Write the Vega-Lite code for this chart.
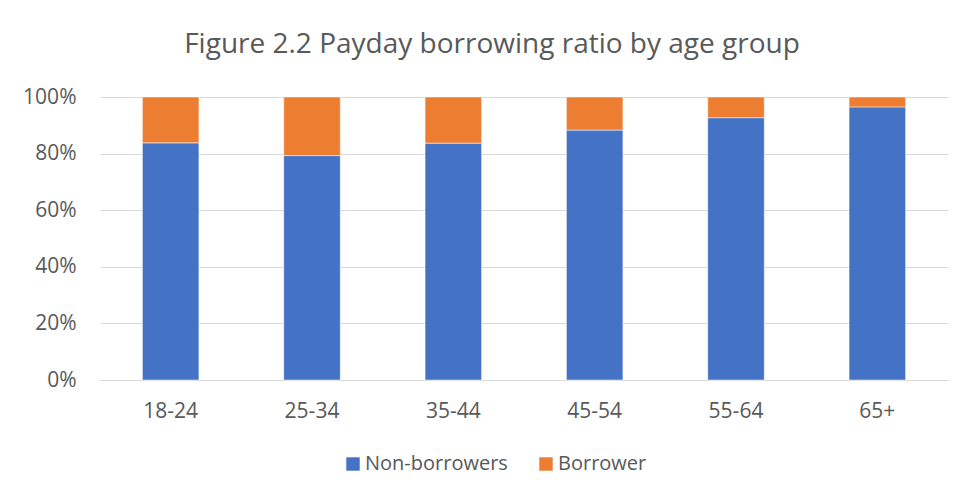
{
  "$schema": "https://vega.github.io/schema/vega-lite/v6.json",
  "autosize": "none",
  "width": 848,
  "height": 283,
  "padding": {"left": 100, "top": 97, "right": 20, "bottom": 122},
  "background": "white",
  "title": {
    "text": "Figure 2.2 Payday borrowing ratio by age group",
    "font": "Open Sans",
    "fontSize": 28,
    "fontWeight": "normal",
    "color": "#595959",
    "anchor": "middle",
    "dx": -32,
    "offset": 27
  },
  "data": {
    "values": [
      {"age": "18-24", "series": "Non-borrowers", "share": 0.838},
      {"age": "18-24", "series": "Borrower", "share": 0.162},
      {"age": "25-34", "series": "Non-borrowers", "share": 0.793},
      {"age": "25-34", "series": "Borrower", "share": 0.207},
      {"age": "35-44", "series": "Non-borrowers", "share": 0.837},
      {"age": "35-44", "series": "Borrower", "share": 0.163},
      {"age": "45-54", "series": "Non-borrowers", "share": 0.883},
      {"age": "45-54", "series": "Borrower", "share": 0.117},
      {"age": "55-64", "series": "Non-borrowers", "share": 0.927},
      {"age": "55-64", "series": "Borrower", "share": 0.073},
      {"age": "65+", "series": "Non-borrowers", "share": 0.965},
      {"age": "65+", "series": "Borrower", "share": 0.035}
    ]
  },
  "mark": {"type": "bar", "stroke": "white", "strokeWidth": 0.5},
  "encoding": {
    "x": {
      "field": "age",
      "type": "nominal",
      "sort": null,
      "scale": {"paddingInner": 0.6, "paddingOuter": 0.3},
      "axis": {
        "title": null,
        "labelAngle": 0,
        "labelFont": "Open Sans",
        "labelFontSize": 21,
        "labelColor": "#595959",
        "labelPadding": 20,
        "ticks": false,
        "domainColor": "#d9d9d9",
        "domainWidth": 1
      }
    },
    "y": {
      "field": "share",
      "type": "quantitative",
      "stack": "zero",
      "scale": {"domain": [0, 1]},
      "axis": {
        "title": null,
        "format": ".0%",
        "values": [0, 0.2, 0.4, 0.6, 0.8, 1],
        "labelFont": "Open Sans",
        "labelFontSize": 21,
        "labelColor": "#595959",
        "labelPadding": 24,
        "ticks": false,
        "domain": false,
        "gridColor": "#d9d9d9",
        "gridWidth": 1
      }
    },
    "color": {
      "field": "series",
      "type": "nominal",
      "scale": {"domain": ["Non-borrowers", "Borrower"], "range": ["#4472C4", "#ED7D31"]},
      "legend": {
        "title": null,
        "orient": "none",
        "legendX": 243,
        "legendY": 357,
        "padding": 0,
        "direction": "horizontal",
        "symbolType": "square",
        "symbolSize": 180,
        "symbolStrokeWidth": 0,
        "labelOffset": 2,
        "labelFont": "Open Sans",
        "labelFontSize": 20,
        "labelColor": "#595959",
        "columnPadding": 28
      }
    },
    "order": {"field": "series", "sort": "descending"}
  },
  "config": {"view": {"stroke": null}}
}
